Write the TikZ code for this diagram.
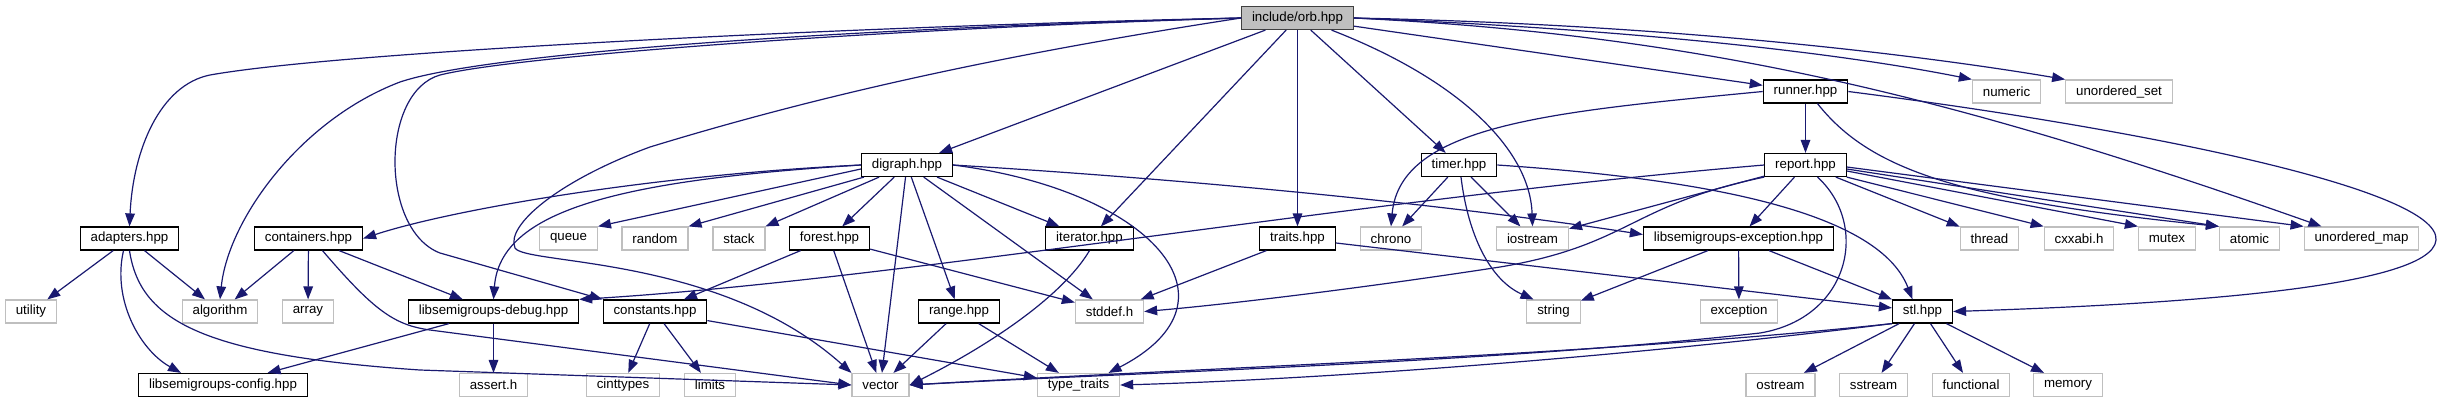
\documentclass[tikz,border=0pt]{standalone}
\usepackage{fontspec}
\setmainfont{Liberation Sans}
\usetikzlibrary{arrows.meta}
\definecolor{edgeblue}{HTML}{191970}
\definecolor{sysgray}{HTML}{BFBFBF}

\begin{document}
\begin{tikzpicture}[
    x=0.5pt, y=-0.5pt,
    font=\fontsize{6.65}{8}\selectfont,
    hdr/.style={draw=black, line width=0.6pt, fill=white, minimum height=11.5pt, inner xsep=5.2pt, inner ysep=0pt},
    syshdr/.style={hdr, draw=sysgray},
    mainhdr/.style={hdr, draw=black!75, fill=sysgray},
    dep/.style={draw=edgeblue, line width=0.6pt, -{Triangle[length=6.5pt,width=4.8pt]}}
]
\fill[white] (0,0) rectangle (2442,403);
\useasboundingbox (0,0) rectangle (2442,403);

% rank 0 and 1
\node[mainhdr] (orb) at (1297.5,18) {include/orb.hpp};
\node[hdr] (runner) at (1805.5,91.5) {runner.hpp};
\node[syshdr] (numeric) at (2006.5,91.5) {numeric};
\node[syshdr] (uset) at (2119,91.5) {unordered\_set};

% rank 2
\node[hdr] (digraph) at (907,165) {digraph.hpp};
\node[hdr] (timer) at (1459,165) {timer.hpp};
\node[hdr] (report) at (1805.5,165) {report.hpp};

% rank 3
\node[hdr] (adapters) at (129.5,238.5) {adapters.hpp};
\node[hdr] (containers) at (308.5,238.5) {containers.hpp};
\node[syshdr] (queue) at (568.5,238.5) {queue};
\node[syshdr] (random) at (655,238.5) {random};
\node[syshdr] (stack) at (739,238.5) {stack};
\node[hdr] (forest) at (829.5,238.5) {forest.hpp};
\node[hdr] (iterator) at (1089.5,238.5) {iterator.hpp};
\node[hdr] (traits) at (1297.5,238.5) {traits.hpp};
\node[syshdr] (chrono) at (1391,238.5) {chrono};
\node[syshdr] (iostream) at (1532.5,238.5) {iostream};
\node[hdr] (lsexc) at (1738.5,238.5) {libsemigroups-exception.hpp};
\node[syshdr] (thread) at (1989.5,238.5) {thread};
\node[syshdr] (cxxabi) at (2079,238.5) {cxxabi.h};
\node[syshdr] (mutex) at (2167,238.5) {mutex};
\node[syshdr] (atomic) at (2249.5,238.5) {atomic};
\node[syshdr] (umap) at (2361.5,238.5) {unordered\_map};

% rank 4
\node[syshdr] (utility) at (31,311.5) {utility};
\node[syshdr] (algorithm) at (220,311.5) {algorithm};
\node[syshdr] (array) at (308,311.5) {array};
\node[hdr] (lsdebug) at (493.5,311.5) {libsemigroups-debug.hpp};
\node[hdr] (constants) at (655,311.5) {constants.hpp};
\node[hdr] (range) at (959,311.5) {range.hpp};
\node[syshdr] (stddef) at (1109.5,311.5) {stddef.h};
\node[syshdr] (string) at (1553.5,311.5) {string};
\node[syshdr] (exception) at (1739,311.5) {exception};
\node[hdr] (stl) at (1922.5,311.5) {stl.hpp};

% rank 5
\node[hdr] (lsconfig) at (223,385) {libsemigroups-config.hpp};
\node[syshdr] (assert) at (493.5,385) {assert.h};
\node[syshdr] (cinttypes) at (623,385) {cinttypes};
\node[syshdr] (limits) at (710,385) {limits};
\node[syshdr] (vector) at (880.5,385) {vector};
\node[syshdr] (typetraits) at (1078.5,385) {type\_traits};
\node[syshdr] (ostream) at (1780.5,385) {ostream};
\node[syshdr] (sstream) at (1873.5,385) {sstream};
\node[syshdr] (functional) at (1971,385) {functional};
\node[syshdr] (memory) at (2068,385) {memory};

% includes of orb.hpp
\draw[dep] (orb.west) .. controls (900,25) and (350,50) .. (210,75) .. controls (160,85) and (133,150) .. (adapters.north);
\draw[dep] (orb.west) .. controls (800,30) and (480,55) .. (400,82) .. controls (300,120) and (228,220) .. (algorithm.north);
\draw[dep] (orb.west) .. controls (900,28) and (520,55) .. (440,75) .. controls (380,92) and (380,230) .. (440,253) -- (constants.north west);
\draw[dep] (orb.west) .. controls (1000,55) and (820,95) .. (650,147) .. controls (560,180) and (505,225) .. (515,248) .. controls (525,265) and (720,255) .. (vector.north west);
\draw[dep] (orb) -- (digraph);
\draw[dep] (orb) -- (iterator);
\draw[dep] (orb) -- (traits);
\draw[dep] (orb) -- (timer);
\draw[dep] ([xshift=17pt]orb.south) .. controls (1460,80) and (1530,150) .. (iostream.north);
\draw[dep] (orb) -- (runner);
\draw[dep] (orb.east) .. controls (1650,30) and (1850,55) .. (numeric.north west);
\draw[dep] (orb.east) .. controls (1700,25) and (1950,60) .. (uset.north west);
\draw[dep] (orb.east) .. controls (1700,35) and (1950,95) .. ([xshift=-20pt]umap.north);

% runner.hpp
\draw[dep] (runner) -- (report);
\draw[dep] (runner.west) .. controls (1550,112) and (1400,125) .. (chrono.north);
\draw[dep] ([xshift=6pt]runner.south) .. controls (1870,170) and (1960,200) .. (atomic.north west);
\draw[dep] (runner.east) .. controls (2150,130) and (2440,190) .. (2436,240) .. controls (2432,290) and (2150,305) .. (stl.east);

% report.hpp
\draw[dep] (report) -- (iostream);
\draw[dep] (report.west) .. controls (1350,200) and (900,280) .. (lsdebug.north east);
\draw[dep] (report.south west) .. controls (1630,205) and (1630,245) .. (1500,267) .. controls (1350,290) and (1220,305) .. (stddef.east);
\draw[dep] (report) -- (lsexc);
\draw[dep] ([xshift=6pt]report.south) .. controls (1870,225) and (1850,318) .. (1760,333) .. controls (1500,362) and (1150,372) .. (vector.east);
\draw[dep] (report) -- (thread);
\draw[dep] (report.south east) -- (cxxabi.north west);
\draw[dep] ([yshift=-3pt]report.east) -- (mutex.north west);
\draw[dep] ([yshift=-2pt]report.east) -- (atomic.north west);
\draw[dep] ([yshift=-1pt]report.east) -- (umap.north west);

% timer.hpp and traits.hpp
\draw[dep] (timer) -- (chrono);
\draw[dep] (timer) -- (iostream);
\draw[dep] ([xshift=1pt]timer.south) .. controls (1468,235) and (1490,280) .. ([xshift=-10pt]string.north);
\draw[dep] (timer.east) .. controls (1720,180) and (1880,215) .. ([xshift=-5pt]stl.north);
\draw[dep] (traits) -- (stddef);
\draw[dep] (traits) -- (stl);
\draw[dep] (iterator.south) .. controls (1060,300) and (980,350) .. (vector.east);

% digraph.hpp
\draw[dep] (digraph.west) .. controls (650,175) and (450,210) .. (containers.east);
\draw[dep] (digraph.west) .. controls (620,180) and (500,210) .. (lsdebug.north);
\draw[dep] ([yshift=-2pt]digraph.west) -- (queue.north east);
\draw[dep] (digraph) -- (random.north east);
\draw[dep] (digraph) -- (stack.north east);
\draw[dep] (digraph) -- (forest);
\draw[dep] (digraph) -- (vector);
\draw[dep] (digraph) -- (range);
\draw[dep] (digraph) -- (iterator);
\draw[dep] (digraph) -- (stddef);
\draw[dep] (digraph.east) .. controls (1150,190) and (1250,300) .. ([xshift=15pt]typetraits.north);
\draw[dep] (digraph.east) .. controls (1200,180) and (1450,205) .. ([yshift=2pt]lsexc.west);

% forest, constants, range
\draw[dep] (forest) -- (constants);
\draw[dep] (forest) -- (vector);
\draw[dep] (forest) -- (stddef);
\draw[dep] (constants) -- (cinttypes);
\draw[dep] (constants) -- (limits);
\draw[dep] (constants) -- (typetraits);
\draw[dep] (range) -- (vector);
\draw[dep] (range) -- (typetraits);

% containers and adapters
\draw[dep] (containers) -- (algorithm);
\draw[dep] (containers) -- (array);
\draw[dep] (containers) -- (lsdebug);
\draw[dep] ([xshift=7pt]containers.south) .. controls (375,312) and (395,325) .. (430,330) -- (vector.west);
\draw[dep] (adapters) -- (utility);
\draw[dep] (adapters) -- (algorithm);
\draw[dep] ([xshift=-3pt]adapters.south) .. controls (112,300) and (140,350) .. ([xshift=-21pt]lsconfig.north);
\draw[dep] (adapters.south) .. controls (140,320) and (200,355) .. (420,370) -- (vector.west);

% debug, exception, stl
\draw[dep] (lsdebug) -- (lsconfig);
\draw[dep] (lsdebug) -- (assert);
\draw[dep] (lsexc) -- (string);
\draw[dep] (lsexc) -- (exception);
\draw[dep] (lsexc) -- (stl);
\draw[dep] (stl.south west) .. controls (1600,355) and (1200,368) .. (vector.east);
\draw[dep] (stl.south west) .. controls (1600,360) and (1300,380) .. (typetraits.east);
\draw[dep] (stl) -- (ostream);
\draw[dep] (stl) -- (sstream);
\draw[dep] (stl) -- (functional);
\draw[dep] (stl) -- (memory);

\end{tikzpicture}
\end{document}
